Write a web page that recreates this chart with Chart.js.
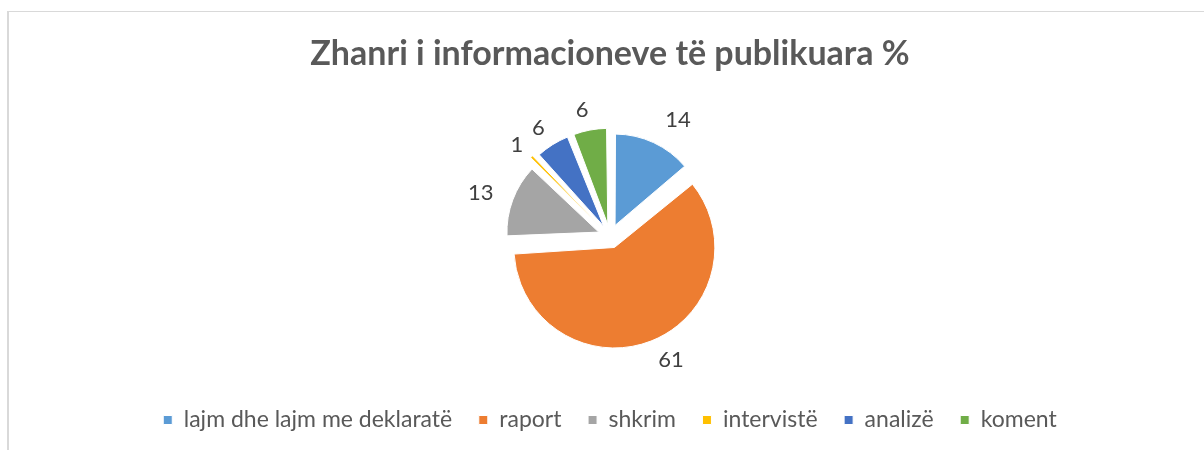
<!DOCTYPE html>
<html><head><meta charset="utf-8">
<script src="https://cdn.jsdelivr.net/npm/chart.js@4/dist/chart.umd.min.js"></script>
<style>
html,body{margin:0;padding:0;background:#fff;overflow:hidden}
#frame{position:absolute;left:7px;top:11px;width:1400px;height:600px;border-top:1px solid #d9d9d9;border-left:2px solid #d9d9d9;box-sizing:border-box}
#wrap{position:absolute;left:0;top:0;width:1204px;height:450px}
</style></head><body>
<div id="frame"></div>
<div id="wrap"><canvas id="c" width="1204" height="450"></canvas></div>
<script>
const titleText = 'Zhanri i informacioneve të publikuara %';
const categories = ['lajm dhe lajm me deklaratë', 'raport', 'shkrim', 'intervistë', 'analizë', 'koment'];
const values = [14, 61, 13, 1, 6, 6];
const colors = ['#5B9BD5', '#ED7D31', '#A5A5A5', '#FFC000', '#4472C4', '#70AD47'];

const labelPlugin = {
  id: 'outLabels',
  afterDatasetsDraw(chart) {
    const ctx = chart.ctx;
    const meta = chart.getDatasetMeta(0);
    ctx.save();
    ctx.font = '22px Lato';
    ctx.fillStyle = '#404040';
    ctx.textAlign = 'center';
    ctx.textBaseline = 'middle';
    meta.data.forEach((arc, i) => {
      const p = arc.getProps(['x', 'y', 'startAngle', 'endAngle', 'outerRadius']);
      const mid = (p.startAngle + p.endAngle) / 2;
      const off = (arc.options.offset || 0) / 4;
      const d = p.outerRadius + off + 26;
      const txt = String(values[i]);
      const w = ctx.measureText(txt).width;
      const c = Math.cos(mid), s = Math.sin(mid);
      const cx = p.x + c * d + Math.sign(c) * w / 2 + 2;
      const cy = p.y + s * d + s * 4 + 2;
      ctx.fillText(txt, cx, cy);
    });
    ctx.restore();
  }
};

new Chart(document.getElementById('c'), {
  type: 'pie',
  data: {
    labels: categories,
    datasets: [{
      data: values,
      backgroundColor: colors,
      borderColor: '#ffffff',
      borderWidth: 1,
      offset: 48,
      radius: 88.5
    }]
  },
  options: {
    responsive: false,
    animation: false,
    events: [],
    layout: { padding: { left: 16, right: 0, top: 0, bottom: 8.5 } },
    plugins: {
      title: {
        display: true,
        text: titleText,
        color: '#595959',
        font: { family: 'Lato', size: 34, weight: 'bold', lineHeight: 1.2 },
        padding: { top: 33.6, bottom: 16.3 }
      },
      legend: {
        position: 'bottom',
        labels: {
          color: '#595959',
          font: { family: 'Lato', size: 23 },
          boxWidth: 9,
          boxHeight: 9,
          padding: 26.6
        }
      },
      tooltip: { enabled: false }
    }
  },
  plugins: [labelPlugin]
});
</script>
</body></html>
